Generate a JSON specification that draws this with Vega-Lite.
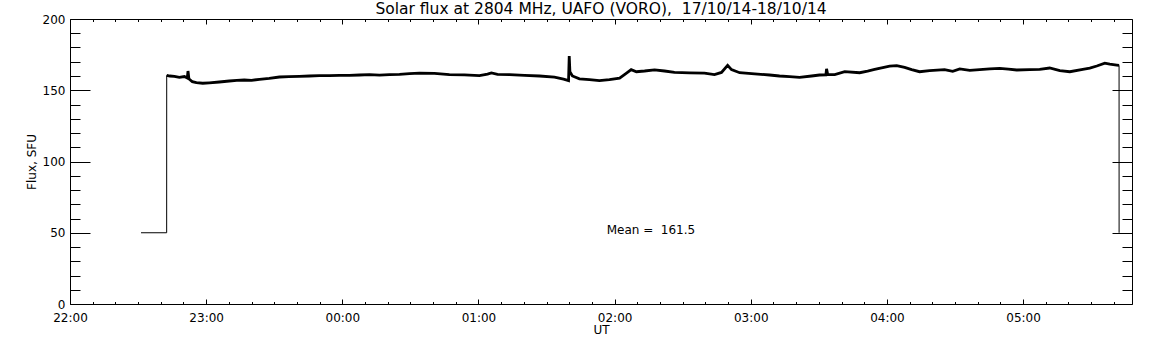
{
  "$schema": "https://vega.github.io/schema/vega-lite/v6.json",
  "width": 1062,
  "height": 285,
  "autosize": "none",
  "padding": {"left": 70, "top": 19, "right": 20, "bottom": 41},
  "background": "white",
  "title": {
    "text": "Solar flux at 2804 MHz, UAFO (VORO), \u00a017/10/14-18/10/14",
    "font": "DejaVu Sans",
    "fontSize": 15.5,
    "fontWeight": "normal",
    "color": "black",
    "anchor": "middle",
    "offset": 2,
    "dy": 6
  },
  "datasets": {
    "flux": [
      {"t": "2014-10-17T22:42:36Z", "flux": 160.5},
      {"t": "2014-10-17T22:44:00Z", "flux": 160.0},
      {"t": "2014-10-17T22:46:00Z", "flux": 159.8},
      {"t": "2014-10-17T22:48:12Z", "flux": 159.0},
      {"t": "2014-10-17T22:50:24Z", "flux": 159.6},
      {"t": "2014-10-17T22:51:42Z", "flux": 158.6},
      {"t": "2014-10-17T22:52:00Z", "flux": 163.5},
      {"t": "2014-10-17T22:52:24Z", "flux": 158.0},
      {"t": "2014-10-17T22:53:54Z", "flux": 156.0},
      {"t": "2014-10-17T22:55:42Z", "flux": 155.3},
      {"t": "2014-10-17T22:58:30Z", "flux": 154.9},
      {"t": "2014-10-17T23:01:24Z", "flux": 155.2},
      {"t": "2014-10-17T23:05:48Z", "flux": 155.8},
      {"t": "2014-10-17T23:10:12Z", "flux": 156.5},
      {"t": "2014-10-17T23:13:30Z", "flux": 156.9},
      {"t": "2014-10-17T23:16:48Z", "flux": 157.2},
      {"t": "2014-10-17T23:20:00Z", "flux": 157.0},
      {"t": "2014-10-17T23:23:30Z", "flux": 157.7},
      {"t": "2014-10-17T23:27:48Z", "flux": 158.3},
      {"t": "2014-10-17T23:32:18Z", "flux": 159.3},
      {"t": "2014-10-17T23:36:30Z", "flux": 159.5},
      {"t": "2014-10-17T23:41:06Z", "flux": 159.8},
      {"t": "2014-10-17T23:45:30Z", "flux": 160.0},
      {"t": "2014-10-17T23:49:54Z", "flux": 160.3},
      {"t": "2014-10-17T23:54:20Z", "flux": 160.2},
      {"t": "2014-10-17T23:58:42Z", "flux": 160.5},
      {"t": "2014-10-18T00:03:10Z", "flux": 160.4},
      {"t": "2014-10-18T00:07:36Z", "flux": 160.7},
      {"t": "2014-10-18T00:12:00Z", "flux": 160.9},
      {"t": "2014-10-18T00:16:24Z", "flux": 160.6},
      {"t": "2014-10-18T00:20:48Z", "flux": 161.0},
      {"t": "2014-10-18T00:25:12Z", "flux": 161.2},
      {"t": "2014-10-18T00:29:36Z", "flux": 161.7},
      {"t": "2014-10-18T00:34:00Z", "flux": 162.0},
      {"t": "2014-10-18T00:40:36Z", "flux": 161.8},
      {"t": "2014-10-18T00:47:12Z", "flux": 161.0},
      {"t": "2014-10-18T00:53:48Z", "flux": 160.8},
      {"t": "2014-10-18T01:00:24Z", "flux": 160.3},
      {"t": "2014-10-18T01:04:00Z", "flux": 161.3},
      {"t": "2014-10-18T01:05:42Z", "flux": 162.2},
      {"t": "2014-10-18T01:08:24Z", "flux": 161.2},
      {"t": "2014-10-18T01:13:42Z", "flux": 161.0},
      {"t": "2014-10-18T01:20:18Z", "flux": 160.5},
      {"t": "2014-10-18T01:26:54Z", "flux": 160.0},
      {"t": "2014-10-18T01:33:30Z", "flux": 159.2},
      {"t": "2014-10-18T01:37:30Z", "flux": 157.8},
      {"t": "2014-10-18T01:39:42Z", "flux": 156.8},
      {"t": "2014-10-18T01:40:00Z", "flux": 174.0},
      {"t": "2014-10-18T01:40:18Z", "flux": 163.0},
      {"t": "2014-10-18T01:41:24Z", "flux": 160.0},
      {"t": "2014-10-18T01:44:30Z", "flux": 158.0},
      {"t": "2014-10-18T01:48:54Z", "flux": 157.5},
      {"t": "2014-10-18T01:53:18Z", "flux": 156.8},
      {"t": "2014-10-18T01:57:42Z", "flux": 157.5},
      {"t": "2014-10-18T02:02:12Z", "flux": 158.5},
      {"t": "2014-10-18T02:04:48Z", "flux": 161.5},
      {"t": "2014-10-18T02:07:18Z", "flux": 164.5},
      {"t": "2014-10-18T02:09:36Z", "flux": 163.0},
      {"t": "2014-10-18T02:13:12Z", "flux": 163.5},
      {"t": "2014-10-18T02:17:36Z", "flux": 164.3},
      {"t": "2014-10-18T02:22:00Z", "flux": 163.5},
      {"t": "2014-10-18T02:26:24Z", "flux": 162.5},
      {"t": "2014-10-18T02:33:00Z", "flux": 162.2},
      {"t": "2014-10-18T02:39:36Z", "flux": 162.0},
      {"t": "2014-10-18T02:44:00Z", "flux": 161.0},
      {"t": "2014-10-18T02:47:06Z", "flux": 162.5},
      {"t": "2014-10-18T02:49:48Z", "flux": 167.5},
      {"t": "2014-10-18T02:51:30Z", "flux": 164.5},
      {"t": "2014-10-18T02:55:06Z", "flux": 162.3},
      {"t": "2014-10-18T03:01:42Z", "flux": 161.5},
      {"t": "2014-10-18T03:08:18Z", "flux": 160.7},
      {"t": "2014-10-18T03:12:40Z", "flux": 160.0},
      {"t": "2014-10-18T03:17:06Z", "flux": 159.5},
      {"t": "2014-10-18T03:21:30Z", "flux": 159.0},
      {"t": "2014-10-18T03:26:48Z", "flux": 160.0},
      {"t": "2014-10-18T03:30:18Z", "flux": 160.7},
      {"t": "2014-10-18T03:33:06Z", "flux": 160.8},
      {"t": "2014-10-18T03:33:24Z", "flux": 165.0},
      {"t": "2014-10-18T03:33:54Z", "flux": 161.0},
      {"t": "2014-10-18T03:37:00Z", "flux": 161.0},
      {"t": "2014-10-18T03:41:24Z", "flux": 163.0},
      {"t": "2014-10-18T03:48:00Z", "flux": 162.3},
      {"t": "2014-10-18T03:51:30Z", "flux": 163.5},
      {"t": "2014-10-18T03:54:36Z", "flux": 164.7},
      {"t": "2014-10-18T04:01:12Z", "flux": 167.0},
      {"t": "2014-10-18T04:04:18Z", "flux": 167.3},
      {"t": "2014-10-18T04:07:48Z", "flux": 166.0},
      {"t": "2014-10-18T04:10:54Z", "flux": 164.5},
      {"t": "2014-10-18T04:14:24Z", "flux": 163.0},
      {"t": "2014-10-18T04:18:48Z", "flux": 163.7},
      {"t": "2014-10-18T04:25:24Z", "flux": 164.5},
      {"t": "2014-10-18T04:29:00Z", "flux": 163.3},
      {"t": "2014-10-18T04:32:06Z", "flux": 165.0},
      {"t": "2014-10-18T04:36:30Z", "flux": 164.0},
      {"t": "2014-10-18T04:40:54Z", "flux": 164.5},
      {"t": "2014-10-18T04:45:18Z", "flux": 165.0},
      {"t": "2014-10-18T04:49:42Z", "flux": 165.4},
      {"t": "2014-10-18T04:53:30Z", "flux": 164.8},
      {"t": "2014-10-18T04:57:12Z", "flux": 164.2},
      {"t": "2014-10-18T05:02:54Z", "flux": 164.5},
      {"t": "2014-10-18T05:07:18Z", "flux": 164.7},
      {"t": "2014-10-18T05:11:42Z", "flux": 165.6},
      {"t": "2014-10-18T05:16:12Z", "flux": 163.7},
      {"t": "2014-10-18T05:20:36Z", "flux": 163.0},
      {"t": "2014-10-18T05:26:18Z", "flux": 164.7},
      {"t": "2014-10-18T05:29:24Z", "flux": 165.5},
      {"t": "2014-10-18T05:32:30Z", "flux": 167.0},
      {"t": "2014-10-18T05:36:00Z", "flux": 169.0},
      {"t": "2014-10-18T05:38:12Z", "flux": 168.3},
      {"t": "2014-10-18T05:41:18Z", "flux": 167.7},
      {"t": "2014-10-18T05:42:18Z", "flux": 167.5}
    ],
    "edgeStart": [
      {"t": "2014-10-17T22:31:18Z", "flux": 50},
      {"t": "2014-10-17T22:42:36Z", "flux": 50},
      {"t": "2014-10-17T22:42:37Z", "flux": 160.5}
    ],
    "edgeEnd": [
      {"t": "2014-10-18T05:42:18Z", "flux": 167.5},
      {"t": "2014-10-18T05:42:19Z", "flux": 50}
    ],
    "notes": [
      {"t": "2014-10-18T02:16:00Z", "flux": 52, "label": "Mean = \u00a0161.5"}
    ]
  },
  "layer": [
    {
      "data": {"name": "flux"},
      "mark": {"type": "line", "color": "black", "strokeWidth": 2.8},
      "encoding": {
        "x": {
          "field": "t", "type": "temporal",
          "scale": {"type": "utc", "domain": [
            {"year": 2014, "month": 10, "date": 17, "hours": 22, "minutes": 0, "utc": true},
            {"year": 2014, "month": 10, "date": 18, "hours": 5, "minutes": 48, "utc": true}
          ]},
          "axis": {
            "orient": "bottom",
            "title": "UT",
            "values": [1413583200000, 1413586800000, 1413590400000, 1413594000000, 1413597600000, 1413601200000, 1413604800000, 1413608400000],
            "format": "%H:%M",
            "ticks": false,
            "labelPadding": 8,
            "labelFlush": false,
            "titlePadding": 1
          }
        },
        "y": {
          "field": "flux", "type": "quantitative",
          "scale": {"domain": [0, 200], "nice": false, "zero": false},
          "axis": {
            "orient": "left",
            "title": "Flux, SFU",
            "values": [0, 50, 100, 150, 200],
            "ticks": false,
            "labelPadding": 5,
            "titlePadding": 4
          }
        }
      }
    },
    {
      "data": {"name": "edgeStart"},
      "mark": {"type": "line", "color": "black", "strokeWidth": 1},
      "encoding": {
        "x": {
          "field": "t", "type": "temporal",
          "axis": {
            "orient": "bottom",
            "title": null,
            "labels": false,
            "domain": false,
            "values": [1413583200000, 1413586800000, 1413590400000, 1413594000000, 1413597600000, 1413601200000, 1413604800000, 1413608400000],
            "tickSize": -5
          }
        },
        "y": {
          "field": "flux", "type": "quantitative",
          "axis": {
            "orient": "left",
            "title": null,
            "labels": false,
            "domain": false,
            "values": [0, 50, 100, 150, 200],
            "tickSize": -20
          }
        }
      }
    },
    {
      "data": {"name": "edgeEnd"},
      "mark": {"type": "line", "color": "black", "strokeWidth": 1},
      "encoding": {
        "x": {
          "field": "t", "type": "temporal",
          "axis": {
            "orient": "bottom",
            "title": null,
            "labels": false,
            "domain": false,
            "values": [1413583800000, 1413584400000, 1413585000000, 1413585600000, 1413586200000, 1413587400000, 1413588000000, 1413588600000, 1413589200000, 1413589800000, 1413591000000, 1413591600000, 1413592200000, 1413592800000, 1413593400000, 1413594600000, 1413595200000, 1413595800000, 1413596400000, 1413597000000, 1413598200000, 1413598800000, 1413599400000, 1413600000000, 1413600600000, 1413601800000, 1413602400000, 1413603000000, 1413603600000, 1413604200000, 1413605400000, 1413606000000, 1413606600000, 1413607200000, 1413607800000, 1413609000000, 1413609600000, 1413610200000, 1413610800000, 1413611400000],
            "tickSize": -2.5
          }
        },
        "y": {
          "field": "flux", "type": "quantitative",
          "axis": {
            "orient": "left",
            "title": null,
            "labels": false,
            "domain": false,
            "values": [10, 20, 30, 40, 60, 70, 80, 90, 110, 120, 130, 140, 160, 170, 180, 190],
            "tickSize": -10
          }
        }
      }
    },
    {
      "data": {"name": "notes"},
      "mark": {"type": "text", "font": "DejaVu Sans", "fontSize": 12, "color": "black", "align": "center", "baseline": "middle"},
      "encoding": {
        "x": {
          "field": "t", "type": "temporal",
          "axis": {
            "orient": "top",
            "title": null,
            "labels": false,
            "values": [1413583200000, 1413586800000, 1413590400000, 1413594000000, 1413597600000, 1413601200000, 1413604800000, 1413608400000],
            "tickSize": -5
          }
        },
        "y": {
          "field": "flux", "type": "quantitative",
          "axis": {
            "orient": "right",
            "title": null,
            "labels": false,
            "values": [0, 50, 100, 150, 200],
            "tickSize": -20
          }
        },
        "text": {"field": "label"}
      }
    },
    {
      "data": {"name": "edgeStart"},
      "mark": {"type": "line", "color": "black", "strokeWidth": 1, "opacity": 0},
      "encoding": {
        "x": {
          "field": "t", "type": "temporal",
          "axis": {
            "orient": "top",
            "title": null,
            "labels": false,
            "domain": false,
            "values": [1413583800000, 1413584400000, 1413585000000, 1413585600000, 1413586200000, 1413587400000, 1413588000000, 1413588600000, 1413589200000, 1413589800000, 1413591000000, 1413591600000, 1413592200000, 1413592800000, 1413593400000, 1413594600000, 1413595200000, 1413595800000, 1413596400000, 1413597000000, 1413598200000, 1413598800000, 1413599400000, 1413600000000, 1413600600000, 1413601800000, 1413602400000, 1413603000000, 1413603600000, 1413604200000, 1413605400000, 1413606000000, 1413606600000, 1413607200000, 1413607800000, 1413609000000, 1413609600000, 1413610200000, 1413610800000, 1413611400000],
            "tickSize": -2.5
          }
        },
        "y": {
          "field": "flux", "type": "quantitative",
          "axis": {
            "orient": "right",
            "title": null,
            "labels": false,
            "domain": false,
            "values": [10, 20, 30, 40, 60, 70, 80, 90, 110, 120, 130, 140, 160, 170, 180, 190],
            "tickSize": -10
          }
        }
      }
    }
  ],
  "resolve": {"axis": {"x": "independent", "y": "independent"}},
  "config": {
    "view": {"stroke": null},
    "axis": {
      "grid": false,
      "domainColor": "black",
      "domainWidth": 1,
      "tickColor": "black",
      "tickWidth": 1,
      "labelFont": "DejaVu Sans",
      "labelFontSize": 12,
      "labelColor": "black",
      "titleFont": "DejaVu Sans",
      "titleFontSize": 12,
      "titleFontWeight": "normal",
      "titleColor": "black"
    }
  }
}
